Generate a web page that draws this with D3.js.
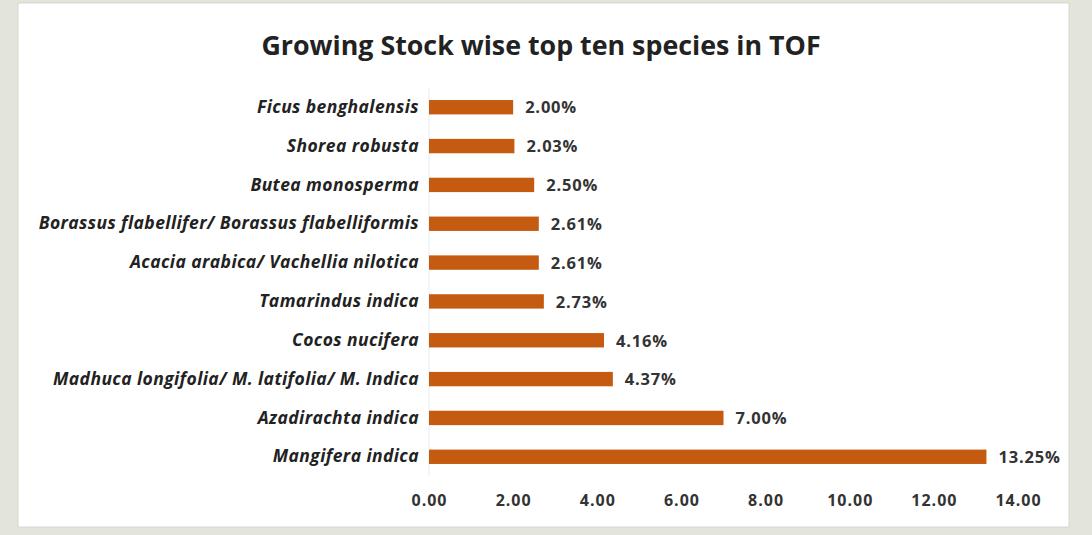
<!DOCTYPE html>
<html>
<head>
<meta charset="utf-8">
<script src="https://cdn.jsdelivr.net/npm/d3@7"></script>
<style>
  html, body { margin: 0; padding: 0; background: #e3e5db; }
  svg { display: block; }
</style>
</head>
<body>
<svg id="chart" width="1092" height="535"></svg>
<script>
// Top ten species by growing stock share (%)
const species = [
  "Ficus benghalensis",
  "Shorea robusta",
  "Butea monosperma",
  "Borassus flabellifer/ Borassus flabelliformis",
  "Acacia arabica/ Vachellia nilotica",
  "Tamarindus indica",
  "Cocos nucifera",
  "Madhuca longifolia/ M. latifolia/ M. Indica",
  "Azadirachta indica",
  "Mangifera indica"
];
const shares = [2.00, 2.03, 2.50, 2.61, 2.61, 2.73, 4.16, 4.37, 7.00, 13.25];
const xTicks = [0, 2, 4, 6, 8, 10, 12, 14];
const title = "Growing Stock wise top ten species in TOF";

const FONT = "'Open Sans', Lato, sans-serif";
const svg = d3.select("#chart");
const W = 1092, H = 535;

// panel
svg.append("rect").attr("x", 0).attr("y", 0).attr("width", W).attr("height", H).attr("fill", "#e3e5db");
svg.append("rect").attr("x", 18).attr("y", 3).attr("width", 1051).attr("height", 524)
  .attr("fill", "#ffffff").attr("stroke", "#d6d8d0").attr("stroke-width", 1);

const x = d3.scaleLinear().domain([0, 14]).range([429, 1018]);
const y = d3.scaleBand().domain(species).range([88, 476]).paddingInner(0.63).paddingOuter(0.31);

svg.append("text")
  .attr("x", 541).attr("y", 55)
  .attr("text-anchor", "middle")
  .attr("font-family", FONT)
  .attr("font-weight", "bold")
  .attr("font-size", 26.8)
  .attr("fill", "#222")
  .text(title);

// faint baseline
svg.append("line")
  .attr("x1", x(0)).attr("x2", x(0))
  .attr("y1", 88).attr("y2", 476)
  .attr("stroke", "#e4edf5").attr("stroke-width", 1);

const rows = species.map((s, i) => ({ s, v: shares[i] }));

svg.append("g").selectAll("rect").data(rows).join("rect")
  .attr("x", x(0))
  .attr("y", d => y(d.s))
  .attr("width", d => x(d.v) - x(0))
  .attr("height", y.bandwidth())
  .attr("fill", "#c55a11");

svg.append("g").selectAll("text").data(rows).join("text")
  .attr("x", d => x(d.v) + 12)
  .attr("y", d => y(d.s) + y.bandwidth() / 2)
  .attr("dy", "0.38em")
  .attr("font-family", FONT)
  .attr("font-weight", "bold")
  .attr("font-size", 16.5)
  .attr("letter-spacing", 0.8)
  .attr("fill", "#333")
  .text(d => d.v.toFixed(2) + "%");

// category axis
const yAxis = svg.append("g").attr("transform", `translate(${x(0)},0)`)
  .call(d3.axisLeft(y).tickSize(0).tickPadding(10));
yAxis.select(".domain").remove();
yAxis.selectAll("text")
  .attr("font-family", FONT)
  .attr("font-weight", "bold")
  .attr("font-style", "italic")
  .attr("font-size", 17.5)
  .attr("letter-spacing", 0.4)
  .attr("fill", "#222");

// value axis
const xAxis = svg.append("g").attr("transform", "translate(0,489)")
  .call(d3.axisBottom(x).tickValues(xTicks).tickFormat(d3.format(".2f")).tickSize(0).tickPadding(6));
xAxis.select(".domain").remove();
xAxis.selectAll("text")
  .attr("font-family", FONT)
  .attr("font-weight", "bold")
  .attr("font-size", 16)
  .attr("letter-spacing", 1)
  .attr("fill", "#333");
</script>
</body>
</html>
